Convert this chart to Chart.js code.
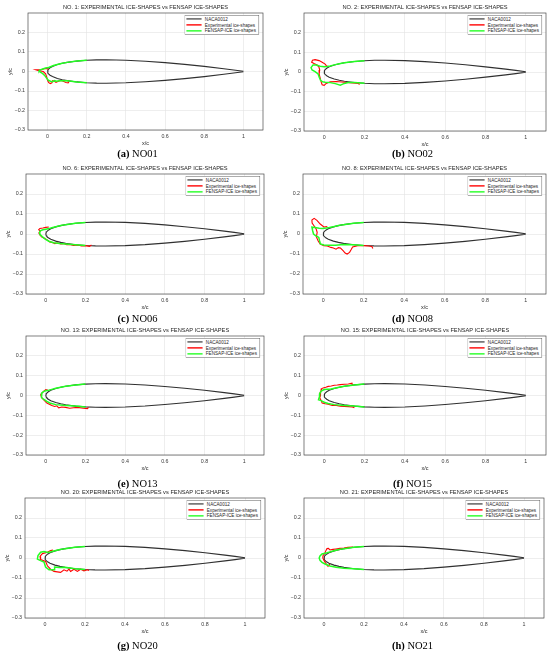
<!DOCTYPE html>
<html>
<head>
<meta charset="utf-8">
<script src="https://cdn.jsdelivr.net/npm/chart.js@4.4.0/dist/chart.umd.min.js"></script>
<style>
  body { margin: 0; width: 550px; height: 651px; position: relative; overflow: hidden; background: #fff;
         font-family: "Liberation Sans", Arial, sans-serif; }
  .panel { position: absolute; }
  .legend { position: absolute; background: #fff; border: 1.2px solid #4a4a4a; font-size: 10px; color: #262626;
            padding: 1px 6px 1px 3px; transform: scale(0.46); transform-origin: top right; }
  .legend div { display: flex; align-items: center; height: 13px; white-space: nowrap; }
  .legend i { display: inline-block; width: 33px; margin-right: 7px; }
  .cap { position: absolute; font-family: "Liberation Serif", "Times New Roman", serif; font-size: 10.5px;
         color: #000; transform: translate(-50%, -50%); white-space: nowrap; }
</style>
</head>
<body>
<script>
// ====== NACA0012 section (upper surface, TE -> LE)
const foilX = [1, 0.95, 0.9, 0.8, 0.7, 0.6, 0.5, 0.4, 0.3, 0.25, 0.2, 0.15, 0.1, 0.075, 0.05, 0.025, 0.0125, 0.005, 0.002, 0];
const foilY = [0.00126, 0.00807, 0.01448, 0.02623, 0.03664, 0.04563, 0.05294, 0.05803, 0.06002, 0.05941,
               0.05737, 0.05345, 0.04683, 0.042, 0.03555, 0.02615, 0.01894, 0.01222, 0.00782, 0];

// ====== Ice shapes
const no01ExpX = [0.005, -0.005, -0.017, -0.034, -0.06, -0.045, -0.022, -0.01, -0.004, 0.0, 0.006, 0.014, 0.022, 0.026, 0.035, 0.043, 0.055, 0.069, 0.08, 0.094, 0.105, 0.11];
const no01ExpY = [0.012, 0.016, 0.014, 0.009, 0.009, 0.004, 0.0, -0.012, -0.03, -0.046, -0.057, -0.062, -0.058, -0.047, -0.05, -0.056, -0.05, -0.046, -0.05, -0.056, -0.058, -0.051];
const no01FenX = [0.2, 0.15, 0.1, 0.075, 0.05, 0.03, 0.015, 0.005, -0.01, -0.025, -0.04, -0.043, -0.035, -0.026, -0.015, -0.008, 0.004, 0.015, 0.026, 0.035, 0.045, 0.06, 0.075, 0.1, 0.15, 0.2];
const no01FenY = [0.05737, 0.05345, 0.04683, 0.042, 0.0362, 0.0305, 0.0245, 0.0205, 0.0175, 0.0125, 0.007, 0.002, -0.004, -0.01, -0.02, -0.03, -0.045, -0.05, -0.052, -0.047, -0.05, -0.048, -0.047, -0.04683, -0.05345, -0.05737];

const no02ExpX = [0.02, 0.012, 0.005, -0.01, -0.025, -0.045, -0.058, -0.062, -0.048, -0.035, -0.026, -0.022, -0.025, -0.02, -0.015, -0.01, 0.0, 0.01, 0.03, 0.06, 0.1, 0.14, 0.17, 0.175];
const no02ExpY = [0.028, 0.03, 0.04, 0.05, 0.058, 0.063, 0.06, 0.05, 0.042, 0.036, 0.025, 0.01, -0.01, -0.03, -0.05, -0.065, -0.068, -0.058, -0.05, -0.048, -0.052, -0.056, -0.058, -0.064];
const no02FenX = [0.2, 0.15, 0.1, 0.075, 0.05, 0.03, 0.015, 0.0, -0.02, -0.04, -0.055, -0.065, -0.06, -0.045, -0.03, -0.024, -0.018, -0.008, 0.005, 0.03, 0.055, 0.08, 0.1, 0.12, 0.15, 0.2];
const no02FenY = [0.05737, 0.05345, 0.04683, 0.042, 0.0362, 0.031, 0.028, 0.027, 0.029, 0.035, 0.036, 0.022, 0.01, 0.002, -0.01, -0.028, -0.042, -0.05, -0.052, -0.054, -0.059, -0.067, -0.058, -0.053, -0.05345, -0.05737];

const no06ExpX = [0.015, 0.0, -0.015, -0.03, -0.036, -0.028, -0.035, -0.03, -0.02, -0.005, 0.01, 0.02, 0.035, 0.045, 0.06, 0.075, 0.09, 0.105, 0.12, 0.14, 0.16, 0.18, 0.2, 0.22, 0.23];
const no06ExpY = [0.035, 0.033, 0.03, 0.028, 0.022, 0.015, 0.005, -0.005, -0.015, -0.022, -0.032, -0.04, -0.043, -0.048, -0.045, -0.05, -0.048, -0.054, -0.052, -0.057, -0.055, -0.06, -0.058, -0.062, -0.055];
const no06FenX = [0.2, 0.15, 0.1, 0.075, 0.05, 0.03, 0.015, 0.0, -0.015, -0.028, -0.032, -0.03, -0.018, -0.005, 0.015, 0.04, 0.07, 0.1, 0.15, 0.2];
const no06FenY = [0.05737, 0.05345, 0.04683, 0.042, 0.0362, 0.031, 0.027, 0.024, 0.021, 0.016, 0.008, -0.002, -0.013, -0.024, -0.036, -0.044, -0.048, -0.05, -0.05345, -0.05737];

const no08ExpX = [0.02, 0.003, -0.015, -0.031, -0.045, -0.056, -0.055, -0.045, -0.035, -0.03, -0.034, -0.025, -0.015, 0.003, 0.02, 0.038, 0.05, 0.063, 0.075, 0.085, 0.098, 0.108, 0.118, 0.13, 0.138, 0.145, 0.17, 0.2, 0.225, 0.24, 0.245];
const no08ExpY = [0.037, 0.035, 0.05, 0.068, 0.078, 0.07, 0.055, 0.04, 0.025, 0.008, -0.015, -0.035, -0.05, -0.058, -0.06, -0.067, -0.07, -0.076, -0.068, -0.07, -0.083, -0.095, -0.1, -0.092, -0.078, -0.065, -0.058, -0.058, -0.06, -0.062, -0.072];
const no08FenX = [0.2, 0.15, 0.1, 0.075, 0.05, 0.03, 0.015, -0.005, -0.02, -0.04, -0.056, -0.052, -0.048, -0.035, -0.022, -0.018, -0.014, 0.003, 0.03, 0.06, 0.1, 0.15, 0.2];
const no08FenY = [0.05737, 0.05345, 0.04683, 0.042, 0.0362, 0.032, 0.03, 0.028, 0.029, 0.032, 0.034, 0.015, 0.0, -0.01, -0.017, -0.035, -0.05, -0.055, -0.056, -0.056, -0.052, -0.05345, -0.05737];

const no13ExpX = [0.01, 0.0, -0.01, -0.02, -0.026, -0.02, -0.008, 0.005, 0.02, 0.03, 0.045, 0.055, 0.065, 0.08, 0.1, 0.12, 0.14, 0.16, 0.19, 0.21, 0.215];
const no13ExpY = [0.026, 0.03, 0.022, 0.012, 0.003, -0.012, -0.025, -0.038, -0.045, -0.05, -0.055, -0.052, -0.062, -0.058, -0.06, -0.064, -0.062, -0.06, -0.064, -0.066, -0.06];
const no13FenX = [0.2, 0.15, 0.1, 0.075, 0.05, 0.03, 0.015, 0.005, -0.01, -0.02, -0.024, -0.02, -0.01, 0.005, 0.02, 0.05, 0.1, 0.15, 0.2];
const no13FenY = [0.05737, 0.05345, 0.04683, 0.042, 0.0362, 0.031, 0.027, 0.025, 0.021, 0.013, 0.002, -0.01, -0.02, -0.03, -0.038, -0.046, -0.05, -0.05345, -0.05737];

const no15ExpX = [0.14, 0.138, 0.12, 0.1, 0.08, 0.065, 0.05, 0.035, 0.02, 0.008, -0.005, -0.012, -0.015, -0.02, -0.018, -0.022, -0.015, -0.01, 0.005, 0.02, 0.04, 0.06, 0.08, 0.1, 0.12, 0.14, 0.15];
const no15ExpY = [0.053, 0.062, 0.058, 0.057, 0.055, 0.053, 0.052, 0.048, 0.046, 0.042, 0.038, 0.035, 0.025, 0.015, 0.0, -0.012, -0.025, -0.038, -0.042, -0.044, -0.05, -0.05, -0.054, -0.055, -0.056, -0.058, -0.062];
const no15FenX = [0.2, 0.15, 0.1, 0.075, 0.05, 0.03, 0.015, 0.0, -0.015, -0.022, -0.023, -0.028, -0.015, 0.0, 0.02, 0.05, 0.1, 0.15, 0.2];
const no15FenY = [0.05737, 0.05345, 0.04683, 0.042, 0.0362, 0.0315, 0.031, 0.03, 0.022, 0.01, -0.005, -0.022, -0.026, -0.034, -0.04, -0.046, -0.05, -0.05345, -0.05737];

const no20ExpX = [0.04, 0.028, 0.012, -0.013, -0.025, -0.022, 0.003, 0.012, 0.028, 0.045, 0.078, 0.095, 0.11, 0.12, 0.128, 0.145, 0.162, 0.178, 0.195, 0.212, 0.22];
const no20ExpY = [0.04, 0.037, 0.029, 0.022, 0.008, -0.008, -0.017, -0.039, -0.056, -0.067, -0.072, -0.059, -0.066, -0.056, -0.067, -0.056, -0.067, -0.056, -0.064, -0.059, -0.062];
const no20FenX = [0.2, 0.15, 0.1, 0.075, 0.05, 0.03, 0.015, -0.005, -0.022, -0.035, -0.038, -0.022, -0.005, 0.003, 0.02, 0.045, 0.048, 0.07, 0.1, 0.15, 0.2];
const no20FenY = [0.05737, 0.05345, 0.04683, 0.042, 0.0362, 0.031, 0.028, 0.032, 0.029, 0.012, -0.005, -0.013, -0.02, -0.045, -0.059, -0.059, -0.045, -0.047, -0.04683, -0.05345, -0.05737];

const no21ExpX = [0.145, 0.12, 0.1, 0.08, 0.06, 0.045, 0.03, 0.022, 0.015, 0.01, 0.003, -0.005, -0.006, 0.0, 0.008, 0.015, 0.02, 0.025, 0.03];
const no21ExpY = [0.055, 0.053, 0.05, 0.048, 0.045, 0.043, 0.04, 0.048, 0.047, 0.038, 0.022, 0.012, 0.0, -0.012, -0.025, -0.035, -0.042, -0.035, -0.03];
const no21FenX = [0.2, 0.15, 0.1, 0.075, 0.05, 0.03, 0.015, 0.005, -0.01, -0.02, -0.024, -0.02, -0.01, 0.005, 0.03, 0.06, 0.1, 0.15, 0.2];
const no21FenY = [0.05737, 0.05345, 0.04683, 0.042, 0.0362, 0.0305, 0.026, 0.024, 0.02, 0.01, 0.0, -0.012, -0.022, -0.03, -0.04, -0.046, -0.051, -0.05345, -0.05737];

// ====== Axes
const xTicks = [0, 0.2, 0.4, 0.6, 0.8, 1];
const yTicks = [-0.3, -0.2, -0.1, 0, 0.1, 0.2];
const caseNumbers = [1, 2, 6, 8, 13, 15, 20, 21];
const caseNames = ["NO01", "NO02", "NO06", "NO08", "NO13", "NO15", "NO20", "NO21"];
const caseLetters = ["a", "b", "c", "d", "e", "f", "g", "h"];
const legendLabels = ["NACA0012", "Experimental ice-shapes", "FENSAP-ICE ice-shapes"];

const cases = [
  [no01ExpX, no01ExpY, no01FenX, no01FenY],
  [no02ExpX, no02ExpY, no02FenX, no02FenY],
  [no06ExpX, no06ExpY, no06FenX, no06FenY],
  [no08ExpX, no08ExpY, no08FenX, no08FenY],
  [no13ExpX, no13ExpY, no13FenX, no13FenY],
  [no15ExpX, no15ExpY, no15FenX, no15FenY],
  [no20ExpX, no20ExpY, no20FenX, no20FenY],
  [no21ExpX, no21ExpY, no21FenX, no21FenY],
];

// plot areas on the page (px)
const frames = [
  { left: 28, top: 13, w: 235, h: 117 },
  { left: 304, top: 13, w: 242, h: 118 },
  { left: 26, top: 174, w: 238, h: 120 },
  { left: 303, top: 174, w: 243, h: 120 },
  { left: 26, top: 336, w: 238, h: 119 },
  { left: 304, top: 336, w: 242, h: 119 },
  { left: 25, top: 498, w: 240, h: 120 },
  { left: 304, top: 498, w: 240, h: 120 },
];
const captionY = [153, 318, 483, 645];
const lineColors = ["#303030", "#ff0000", "#22ff22"];

Chart.defaults.font.family = '"Liberation Sans", Arial, sans-serif';

const pts = (xs, ys) => xs.map((x, i) => ({ x, y: ys[i] }));
const foilPts = [
  ...pts(foilX, foilY),
  ...pts(foilX.slice(0, -1).reverse(), foilY.slice(0, -1).reverse().map(v => -v)),
];
const fmt = v => {
  const r = Math.round(v * 10) / 10;
  return r < 0 ? "\u2212" + Math.abs(r) : String(r);
};

// ====== axes box (MATLAB style frame)
const axesBox = {
  id: "axesBox",
  beforeDatasetsDraw(chart) {
    const { ctx, chartArea: a } = chart;
    ctx.save();
    ctx.strokeStyle = "#4a4a4a";
    ctx.lineWidth = 0.7;
    ctx.strokeRect(a.left, a.top, a.right - a.left, a.bottom - a.top);
    ctx.restore();
  },
};

const L = 26, T = 13, R = 3, B = 20;

cases.forEach((c, k) => {
  const f = frames[k];
  const wrap = document.createElement("div");
  wrap.className = "panel";
  wrap.style.left = (f.left - L) + "px";
  wrap.style.top = (f.top - T) + "px";
  wrap.style.width = (L + f.w + R) + "px";
  wrap.style.height = (T + f.h + B) + "px";
  const canvas = document.createElement("canvas");
  wrap.appendChild(canvas);
  document.body.appendChild(wrap);

  const line = { showLine: true, pointRadius: 0, fill: false, tension: 0 };
  new Chart(canvas, {
    type: "scatter",
    data: {
      datasets: [
        { ...line, label: legendLabels[0], data: foilPts, borderColor: lineColors[0], borderWidth: 1.1, order: 3 },
        { ...line, label: legendLabels[1], data: pts(c[0], c[1]), borderColor: lineColors[1], borderWidth: 1.1, order: 2 },
        { ...line, label: legendLabels[2], data: pts(c[2], c[3]), borderColor: lineColors[2], borderWidth: 1.5, order: 1 },
      ],
    },
    options: {
      responsive: true,
      maintainAspectRatio: false,
      animation: false,
      events: [],
      layout: { padding: { left: 0, right: R, top: 0, bottom: 0 } },
      plugins: {
        legend: { display: false },
        tooltip: { enabled: false },
        title: {
          display: true,
          fullSize: false,
          text: `NO. ${caseNumbers[k]}: EXPERIMENTAL ICE-SHAPES vs FENSAP ICE-SHAPES`,
          color: "#262626",
          font: { size: 5.7, weight: "normal", lineHeight: 1 },
          padding: { top: 4.15, bottom: 3.15 },
        },
      },
      scales: {
        x: {
          type: "linear", min: -0.1, max: 1.1,
          afterBuildTicks: s => { s.ticks = xTicks.map(v => ({ value: v })); },
          afterFit: s => { s.height = B; },
          grid: { color: "#e2e2e2", lineWidth: 0.6, drawTicks: false },
          border: { display: false },
          ticks: { padding: 3, autoSkip: false, maxRotation: 0, color: "#3a3a3a", font: { size: 5.3 }, callback: v => fmt(v) },
          title: { display: true, text: "x/c", color: "#262626", font: { size: 5.5, lineHeight: 1 }, padding: { top: 0, bottom: 4.2 } },
        },
        y: {
          type: "linear", min: -0.3, max: 0.3,
          afterBuildTicks: s => { s.ticks = yTicks.map(v => ({ value: v })); },
          afterFit: s => { s.width = L; },
          grid: { color: "#e2e2e2", lineWidth: 0.6, drawTicks: false },
          border: { display: false },
          ticks: { padding: 3, autoSkip: false, color: "#3a3a3a", font: { size: 5.3 }, callback: v => fmt(v) },
          title: { display: true, text: "y/c", color: "#262626", font: { size: 5.5, lineHeight: 1 }, padding: { top: L - 18 - 2.75, bottom: 0 } },
        },
      },
    },
    plugins: [axesBox],
  });

  // legend box inside the axes, top right
  const lg = document.createElement("div");
  lg.className = "legend";
  lg.style.right = (550 - (f.left + f.w - 3.5)) + "px";
  lg.style.top = (f.top + 1.5) + "px";
  legendLabels.forEach((txt, i) => {
    const row = document.createElement("div");
    const sw = document.createElement("i");
    sw.style.height = (i === 1 ? 2.4 : 3) + "px";
    sw.style.background = i === 0 ? "#555" : lineColors[i];
    row.appendChild(sw);
    row.appendChild(document.createTextNode(txt));
    lg.appendChild(row);
  });
  document.body.appendChild(lg);

  // caption
  const cap = document.createElement("div");
  cap.className = "cap";
  cap.style.left = (k % 2 === 0 ? 137.5 : 412.5) + "px";
  cap.style.top = captionY[Math.floor(k / 2)] + "px";
  cap.innerHTML = `<b>(${caseLetters[k]})</b> ${caseNames[k]}`;
  document.body.appendChild(cap);
});
</script>
</body>
</html>
